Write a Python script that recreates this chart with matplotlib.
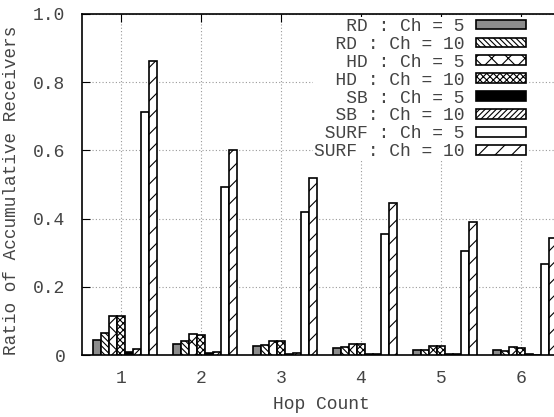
import matplotlib
matplotlib.use('Agg')
import matplotlib.pyplot as plt
import numpy as np

plt.rcParams['font.family'] = ['Liberation Mono', 'DejaVu Sans Mono']
plt.rcParams['font.size'] = 13
plt.rcParams['hatch.linewidth'] = 0.8

# data
hops = [1, 2, 3, 4, 5, 6]
labels = ['RD : Ch = 5', 'RD : Ch = 10', 'HD : Ch = 5', 'HD : Ch = 10',
          'SB : Ch = 5', 'SB : Ch = 10', 'SURF : Ch = 5', 'SURF : Ch = 10']
rd5 = [0.043, 0.032, 0.025, 0.020, 0.016, 0.014]
rd10 = [0.065, 0.040, 0.030, 0.022, 0.015, 0.012]
hd5 = [0.114, 0.061, 0.042, 0.033, 0.026, 0.022]
hd10 = [0.113, 0.060, 0.040, 0.031, 0.025, 0.021]
sb5 = [0.008, 0.005, 0.004, 0.003, 0.002, 0.002]
sb10 = [0.018, 0.010, 0.007, 0.004, 0.002, 0.001]
surf5 = [0.713, 0.492, 0.418, 0.354, 0.305, 0.267]
surf10 = [0.862, 0.600, 0.519, 0.447, 0.390, 0.344]
series = [rd5, rd10, hd5, hd10, sb5, sb10, surf5, surf10]

# styles: (facecolor, hatch)
styles = [('#8c8c8c', ''), ('white', '\\' * 6), ('white', 'xx'),
          ('white', 'xxxxx'), ('black', ''), ('white', '/' * 6),
          ('white', ''), ('white', '//')]

W, H = 554, 417
fig = plt.figure(figsize=(W / 100, H / 100), dpi=100)
xmin, xmax = 0.5125, 7.0
px = 80.0  # pixels per hop
ax = fig.add_axes([82 / W, 62 / H, px * (xmax - xmin) / W, 341 / H])

bw = 0.1
x = np.array(hops, dtype=float)
for i, (vals, (fc, hat)) in enumerate(zip(series, styles)):
    ax.bar(x - 0.35 + bw * i, vals, width=bw, align='edge', color=fc,
           edgecolor='black', hatch=hat, linewidth=1.2,
           label=labels[i].rjust(14), zorder=3)

ax.set_xlim(xmin, xmax)
ax.set_ylim(0, 1.0)
ax.set_xticks(hops)
ax.set_yticks([0, 0.2, 0.4, 0.6, 0.8, 1.0])
ax.set_yticklabels(['0', '0.2', '0.4', '0.6', '0.8', '1.0'])
ax.tick_params(direction='in', length=6, top=True, right=True, colors='black',
               labelcolor='#444444')
ax.tick_params(axis='y', pad=12)
ax.tick_params(axis='x', pad=11)
ax.grid(True, linestyle=(0, (1, 2)), color='#999999', linewidth=0.8, zorder=0)
for s in ax.spines.values():
    s.set_linewidth(1.2)

ax.set_xlabel('Hop Count', color='#444444')
ax.set_ylabel('Ratio of Accumulative Receivers', color='#444444',
              fontsize=12.7)
ax.xaxis.set_label_coords(321 / W, 1 - 396 / H, transform=fig.transFigure)
ax.yaxis.set_label_coords(20 / W, 1 - 190 / H, transform=fig.transFigure)

leg = ax.legend(loc='upper right', bbox_to_anchor=(527 / W, 1 - 17 / H),
                bbox_transform=fig.transFigure, markerfirst=False,
                frameon=True, framealpha=1, edgecolor='none', fancybox=False,
                handlelength=2.8, handleheight=0.45, handletextpad=0.6,
                labelspacing=0.05, borderpad=0.05, borderaxespad=0)
for t in leg.get_texts():
    t.set_color('#444444')
leg.set_zorder(5)

fig.savefig('out.png', dpi=100)
